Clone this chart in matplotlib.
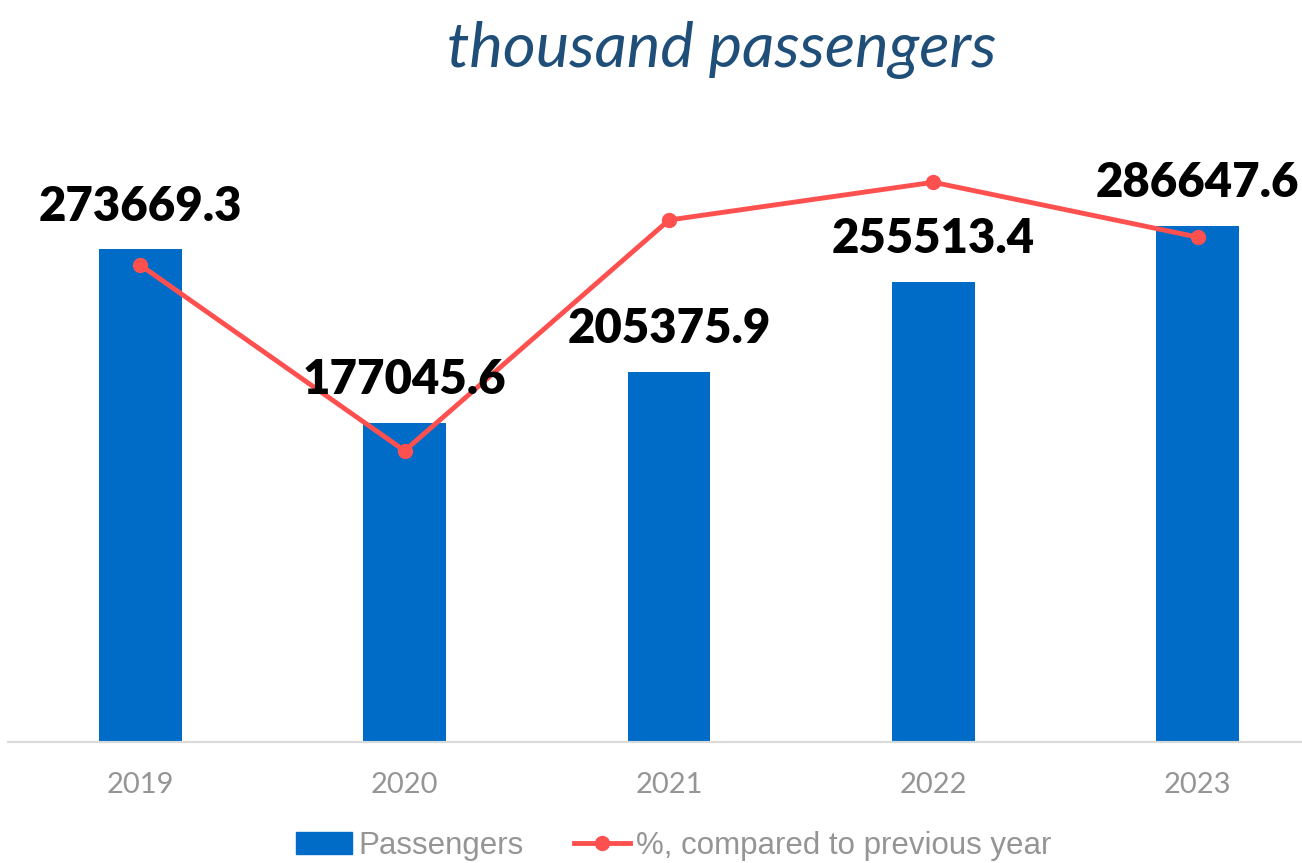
import matplotlib
matplotlib.use("Agg")
import matplotlib.pyplot as plt
from matplotlib.patches import Patch
from matplotlib.lines import Line2D
import numpy as np

years = ["2019", "2020", "2021", "2022", "2023"]
passengers = [273669.3, 177045.6, 205375.9, 255513.4, 286647.6]
pct_prev_year = [106.0, 64.7, 116.0, 124.4, 112.2]
title = "thousand passengers"

bar_color = "#006CC8"
line_color = "#FF5050"
gray = "#959595"

fig = plt.figure(figsize=(13.02, 8.63), dpi=100)
ax = fig.add_axes([8/1302, 0.1405, 1322/1302, 0.7296])
x = np.arange(len(years))
ax.bar(x, passengers, width=0.3135, color=bar_color, zorder=2)
ax.set_ylim(0, 350000)
ax.set_xlim(-0.5, len(years) - 0.5)
for s in ["top", "right", "left"]:
    ax.spines[s].set_visible(False)
ax.spines["bottom"].set_color("#D9D9D9")
ax.spines["bottom"].set_linewidth(1.5)
ax.set_yticks([])
ax.set_xticks(x)
ax.set_xticklabels(years, fontfamily="Lato", fontsize=21, color=gray)
ax.tick_params(axis="x", length=0, pad=22)

ax2 = ax.twinx()
ax2.set_ylim(0, 140)
ax2.plot(x, pct_prev_year, color=line_color, lw=3.5, marker="o", markersize=10, zorder=3)
ax2.set_axis_off()

for xi, v in zip(x, passengers):
    ax2.annotate(f"{v:.1f}", (xi, v), xycoords=ax.transData, xytext=(0, 15),
                 textcoords="offset points", ha="center", va="bottom", fontsize=34,
                 fontweight="heavy", fontfamily="Lato", color="black", zorder=5)

fig.text(722/1302, 1 - 50/863, title, ha="center", va="center", fontsize=45.5,
         fontstyle="italic", fontfamily="Lato", color="#1F4E79")

handles = [Patch(color=bar_color),
           Line2D([0], [0], color=line_color, lw=3.5, marker="o", markersize=10)]
fig.legend(handles, ["Passengers", "%, compared to previous year"],
           loc="center", bbox_to_anchor=(674/1302, 1 - 846/863), ncol=2, frameon=False,
           prop={"family": "Liberation Sans", "size": 22.5}, labelcolor=gray,
           handlelength=1.8, handletextpad=0.2, columnspacing=1.6)

fig.savefig("out.png", dpi=100)
